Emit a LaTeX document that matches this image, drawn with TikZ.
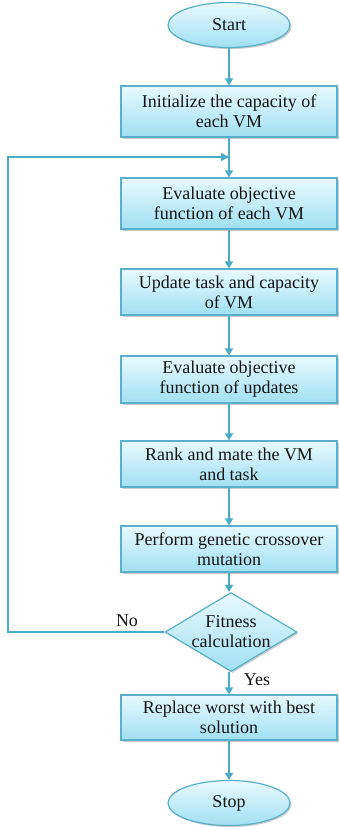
\documentclass[tikz,border=0pt]{standalone}
\usepackage{fontspec}
\setmainfont{Liberation Serif}
\usetikzlibrary{shapes.geometric,arrows.meta,shadows}
\definecolor{edge}{HTML}{5AAFCB}
\definecolor{arr}{HTML}{4BACC6}
\definecolor{ftop}{HTML}{E8F9FE}
\definecolor{fbot}{HTML}{A0E0F3}
\definecolor{txt}{HTML}{151515}
\tikzset{
  x=1pt,y=1pt,
  fillshade/.style={top color=ftop,bottom color=fbot,draw=edge,line width=1.2pt,
    drop shadow={shadow xshift=1.5pt,shadow yshift=-1.5pt,opacity=0.35,fill=black!60}},
  txtfont/.style={text=txt,font=\fontsize{18}{20}\selectfont},
  procbox/.style={fillshade,rectangle,minimum width=216,inner sep=0pt,align=center,txtfont},
  term/.style={fillshade,ellipse,minimum width=122,minimum height=45,inner sep=0pt,txtfont},
  flow/.style={draw=arr,line width=1.8pt,-{Triangle[width=8pt,length=7pt]}},
  loopline/.style={draw=arr,line width=1.2pt},
  lbl/.style={txtfont,inner sep=0pt}
}
\begin{document}
\begin{tikzpicture}
\useasboundingbox (0,0) rectangle (339,-827);
\node[term] (start) at (229,-25) {Start};
\node[procbox,minimum height=51] (b1) at (229,-111.5) {Initialize the capacity of\\each VM};
\node[procbox,minimum height=51] (b2) at (229,-203.5) {Evaluate objective\\function of each VM};
\node[procbox,minimum height=46] (b3) at (229,-292) {Update task and capacity\\of VM};
\node[procbox,minimum height=47] (b4) at (229,-379.5) {Evaluate objective\\function of updates};
\node[procbox,minimum height=46] (b5) at (229,-464) {Rank and mate the VM\\and task};
\node[procbox,minimum height=46] (b6) at (229,-549) {Perform genetic crossover\\mutation};
\node[fillshade,diamond,minimum width=132,minimum height=79,inner sep=0pt] (d) at (231,-632) {};
\node[lbl,align=center] (dt) at (231,-632) {Fitness\\calculation};
\node[procbox,minimum height=45] (b7) at (229,-717.5) {Replace worst with best\\solution};
\node[term] (stop) at (229,-803) {Stop};
\node[lbl] (no) at (127,-621) {No};
\node[lbl] (yes) at (257,-680) {Yes};
\coordinate (j) at (b1.south |- 0,-157);
\coordinate (lc1) at (8,-632);
\coordinate (lc2) at (8,-157);
\draw[flow] (start) -- (b1);
\draw[flow] (b1) -- (b2);
\draw[flow] (b2) -- (b3);
\draw[flow] (b3) -- (b4);
\draw[flow] (b4) -- (b5);
\draw[flow] (b5) -- (b6);
\draw[flow] (b6.south) -- (b6.south |- d.north);
\draw[flow] (d.south -| b7.north) -- (b7);
\draw[flow] (b7) -- (stop);
\draw[loopline] (d.west) -- (lc1) -- (lc2) -- ([xshift=-8pt]j);
\draw[loopline,-{Triangle[width=8pt,length=8pt]}] (lc2) -- (j);
\end{tikzpicture}
\end{document}
